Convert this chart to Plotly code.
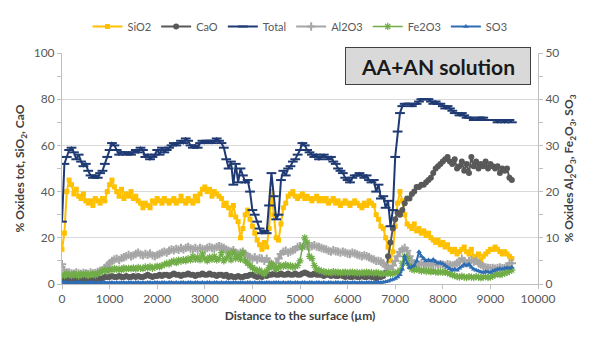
import plotly.graph_objects as go

# Distance to the surface (µm), one point every 50 µm
distance = [50 * i for i in range(190)]

total = [
    27, 52, 55, 58, 59, 57, 54, 56, 53, 51,
    52, 49, 47, 46, 47, 46, 48, 49, 52, 55,
    58, 61, 60, 58, 56, 57, 57, 56, 57, 56,
    57, 58, 57, 59, 58, 55, 56, 54, 55, 56,
    58, 56, 59, 57, 58, 59, 60, 61, 60, 61,
    62, 61, 63, 62, 60, 59, 60, 59, 61, 62,
    61, 62, 62, 61, 62, 63, 62, 61, 59, 54,
    50, 53, 43, 52, 44, 50, 47, 44, 45, 40,
    32, 30, 27, 24, 22, 23, 22, 34, 48, 38,
    28, 30, 45, 49, 47, 50, 51, 53, 54, 56,
    58, 61, 60, 58, 57, 56, 55, 56, 54, 55,
    56, 55, 54, 55, 53, 52, 50, 49, 48, 46,
    45, 44, 46, 47, 47, 48, 47, 46, 47, 45,
    44, 45, 40, 43, 37, 38, 33, 36, 25, 32,
    55, 66, 74, 77, 78, 78, 78, 77, 78, 78,
    79, 80, 80, 80, 80, 79, 78, 79, 78, 78,
    77, 76, 77, 76, 75, 74, 74, 73, 74, 73,
    72, 72, 72, 71, 71, 72, 72, 72, 71, 71,
    71, 71, 71, 70, 71, 71, 70, 71, 71, 70,
]

sio2 = [
    15, 22, 40, 45, 43, 39, 41, 38, 37, 39,
    36, 35, 36, 34, 37, 36, 35, 37, 36, 40,
    43, 45, 42, 40, 38, 41, 37, 39, 38, 40,
    37, 38, 36, 35, 33, 35, 34, 33, 36, 35,
    37, 36, 35, 37, 36, 35, 36, 37, 35, 36,
    38, 36, 35, 37, 36, 35, 38, 36, 39, 41,
    42, 40, 41, 38, 40, 39, 38, 37, 34, 35,
    33, 30, 34, 29, 27, 20, 24, 30, 32, 28,
    25, 22, 19, 17, 15, 18, 16, 24, 40, 30,
    20, 19, 26, 33, 35, 38, 39, 40, 38, 37,
    38, 39, 37, 38, 37, 36, 37, 38, 36, 37,
    36, 37, 35, 36, 37, 35, 36, 34, 35, 36,
    35, 34, 35, 36, 35, 34, 33, 35, 34, 36,
    35, 34, 30, 28, 25, 24, 20, 16, 10, 14,
    25, 35, 40, 36, 30, 26, 25, 24, 26, 23,
    24, 22, 23, 21, 22, 20, 19, 18, 19, 17,
    18, 16, 17, 15, 14, 15, 13, 14, 15, 16,
    14, 13, 15, 12, 11, 13, 10, 12, 13, 14,
    15, 15, 16, 15, 14, 13, 14, 13, 12, 11,
]

cao = [
    2, 1.5, 1.5, 2, 1.5, 2, 1.5, 1.5, 2, 1.5,
    2, 2, 1.5, 2, 2, 2.5, 2, 2.5, 3, 3,
    3, 3.5, 3, 3, 3.5, 3, 3, 3.5, 3, 3,
    3.5, 3, 3.5, 3, 3, 3.5, 4, 3.5, 3, 3.5,
    3.5, 4, 3.5, 4, 4, 3.5, 4, 4.5, 4, 4,
    3.5, 4, 4, 4.5, 4, 4, 3.5, 4, 4, 4.5,
    4, 4, 4.5, 4, 4, 3.5, 4, 4, 3.5, 4,
    3, 3.5, 3, 3, 3.5, 3, 3, 3.5, 3.5, 4,
    4, 3.5, 3, 3.5, 3, 4, 3.5, 4, 4, 4.5,
    4, 4, 4.5, 4, 4, 4.5, 4, 4, 4.5, 4,
    4, 4.5, 5, 4.5, 4, 4, 4.5, 4, 4, 4,
    3.5, 4, 4, 3.5, 4, 3.5, 3.5, 4, 3.5, 3,
    3.5, 3, 3, 3.5, 3, 3, 3.5, 3, 3, 3.5,
    3, 3, 2.5, 3, 3, 3.5, 5, 12, 18, 24,
    28, 31, 30, 32, 35, 37, 37, 39, 40, 42,
    42, 43, 43, 44, 45, 46, 48, 50, 51, 52,
    53, 54, 55, 53, 52, 54, 50, 51, 53, 49,
    52, 48, 55, 51, 53, 50, 52, 51, 53, 50,
    52, 51, 50, 51, 48, 50, 49, 50, 46, 45,
]

al2o3 = [
    4.3, 3, 2.5, 2.5, 2.3, 2.2, 2.5, 2.3, 2.2, 2.4,
    2.3, 2.2, 2.5, 2.3, 2.4, 2.6, 2.8, 3, 3.5, 4,
    4.5, 5, 5.3, 5.5, 5.2, 5.6, 5.8, 6, 6.3, 6,
    6.2, 6.5, 6.8, 6.4, 6.2, 6.5, 6.3, 6.6, 6.2, 6,
    6.3, 6.5, 6.8, 7, 6.8, 7.2, 7.5, 7.3, 7.6, 7.4,
    7.8, 7.5, 7.8, 8, 7.7, 7.5, 7.8, 7.5, 7.8, 7.6,
    7.5, 7.8, 8, 7.8, 7.7, 8, 8.2, 8, 7.8, 7.5,
    7.2, 7, 7.3, 6.8, 6.5, 6.8, 7, 6.5, 6, 5.8,
    5.5, 5.8, 5.3, 5.6, 5.5, 5, 5.5, 4.8, 4, 3.5,
    4.5, 5.5, 6.5, 7, 7.2, 6.8, 7, 7.3, 7.5, 8,
    8.2, 8, 8.3, 8.2, 8, 8.2, 8.4, 8.1, 8, 7.8,
    7.6, 7.5, 7.2, 7, 7.3, 7.1, 7, 6.8, 7, 6.8,
    6.6, 6.5, 6.8, 6.6, 6.4, 6.2, 6, 6.2, 6, 5.8,
    5.5, 5.3, 5, 5, 4.8, 4.5, 3.8, 3.5, 3.2, 4,
    5, 6, 7, 7.5, 7.8, 7.2, 6, 5, 4.5, 4.3,
    4.2, 4.5, 4.3, 4.2, 4, 4.3, 4.2, 4.4, 4.2, 4.3,
    4.2, 4, 4.3, 4.1, 4, 4.2, 4.5, 4.8, 5.5, 5,
    4.5, 5, 5.2, 4.8, 5, 4.5, 4.2, 3.8, 3.6, 3.5,
    3.4, 3.5, 3.3, 3.5, 3.6, 3.4, 3.5, 3.8, 4.5, 4.5,
]

fe2o3 = [
    2, 1.8, 2.2, 2, 1.8, 2.3, 2, 1.7, 2.2, 2,
    2.3, 1.8, 2.1, 2.2, 1.9, 2.3, 2.5, 2.8, 3, 2.7,
    3.2, 3, 3.4, 3.1, 3.3, 3, 3.5, 3.2, 3.4, 3.3,
    3.5, 3.2, 3.6, 3.4, 3.3, 3.7, 3.5, 3.8, 3.4, 3.6,
    3.9, 3.7, 4, 4.2, 4.5, 4.3, 4.8, 5, 4.6, 5.2,
    4.9, 5.3, 5, 5.5, 5.2, 6, 5.3, 5.8, 5.2, 6.5,
    5.5, 5, 5.8, 5.3, 6, 5.2, 5.5, 6.8, 5, 5.6,
    6.5, 5.2, 7, 5.5, 6.2, 5.3, 6.8, 5, 4.5, 4,
    3.5, 3.2, 2.8, 3, 2.5, 2.2, 2.8, 3.5, 4.5, 3.8,
    3.2, 3.6, 4, 3.8, 4.2, 3.8, 4, 3.6, 3.8, 4,
    5, 8, 10, 9, 6, 5.5, 4, 3.2, 3, 2.8,
    2.7, 2.5, 2.6, 2.4, 2.7, 2.5, 2.6, 2.4, 2.5, 2.6,
    2.4, 2.5, 2.6, 2.4, 2.5, 2.3, 2.5, 2.4, 2.6, 2.4,
    2.5, 2.3, 2.5, 2.4, 2.2, 2.3, 2.2, 2.4, 2.2, 2.3,
    2.4, 2.5, 3, 4.5, 6, 5.5, 4, 3.2, 3, 3.2,
    3, 2.8, 3, 2.7, 2.9, 2.6, 2.8, 2.6, 2.5, 2.7,
    2.5, 2.6, 2.4, 2.2, 2, 1.8, 1.6, 1.5, 1.7, 1.5,
    1.4, 1.6, 1.5, 1.4, 1.6, 1.5, 1.3, 1.5, 1.6, 1.4,
    1.5, 1.7, 2, 2.2, 2, 2.2, 2.3, 2.5, 2.8, 3,
]

so3 = [
    0.4, 0.3, 0.3, 0.2, 0.3, 0.3, 0.2, 0.3, 0.3, 0.2,
    0.3, 0.2, 0.3, 0.3, 0.2, 0.3, 0.2, 0.3, 0.3, 0.2,
    0.3, 0.3, 0.2, 0.3, 0.2, 0.3, 0.3, 0.2, 0.3, 0.3,
    0.2, 0.3, 0.3, 0.2, 0.3, 0.2, 0.3, 0.3, 0.2, 0.3,
    0.3, 0.2, 0.3, 0.3, 0.2, 0.3, 0.3, 0.2, 0.3, 0.2,
    0.3, 0.3, 0.2, 0.3, 0.3, 0.2, 0.3, 0.3, 0.2, 0.3,
    0.2, 0.3, 0.3, 0.2, 0.3, 0.3, 0.2, 0.3, 0.2, 0.3,
    0.3, 0.2, 0.3, 0.3, 0.2, 0.3, 0.3, 0.2, 0.3, 0.3,
    0.2, 0.3, 0.2, 0.3, 0.3, 0.2, 0.3, 0.3, 0.2, 0.3,
    0.3, 0.3, 0.2, 0.3, 0.2, 0.3, 0.3, 0.2, 0.3, 0.3,
    0.2, 0.3, 0.3, 0.2, 0.3, 0.3, 0.2, 0.3, 0.3, 0.2,
    0.3, 0.2, 0.3, 0.3, 0.2, 0.3, 0.3, 0.2, 0.3, 0.3,
    0.3, 0.2, 0.3, 0.3, 0.2, 0.3, 0.3, 0.2, 0.3, 0.3,
    0.3, 0.3, 0.3, 0.4, 0.3, 0.4, 0.5, 0.6, 0.8, 1.0,
    1.2, 1.5, 2, 3.2, 6, 4.5, 3.5, 3.8, 4, 5,
    7, 6, 5.5, 5, 5.2, 5, 5.3, 4.8, 4.5, 4.6,
    4.4, 4, 3.6, 3.3, 3, 3.2, 3, 3.4, 3.8, 4.2,
    4, 4.3, 3.6, 3.2, 3, 2.8, 2.6, 2.5, 2.7, 2.6,
    2.5, 2.8, 3, 3.2, 3.3, 3.2, 3.4, 3.5, 3.4, 3.6,
]

for arr in (total, sio2, cao, al2o3, fe2o3, so3):
    assert len(arr) == len(distance), len(arr)

FONT = "Lato, 'Open Sans', sans-serif"
TICK = "#595959"
AXIS = "#BFBFBF"

fig = go.Figure()

fig.add_trace(go.Scatter(
    x=distance, y=sio2, name="SiO2", mode="lines+markers",
    line=dict(color="#FFC000", width=2),
    marker=dict(symbol="square", size=5, color="#FFC000")))
fig.add_trace(go.Scatter(
    x=distance, y=cao, name="CaO", mode="lines+markers",
    line=dict(color="#595959", width=2),
    marker=dict(symbol="circle", size=6, color="#595959")))
fig.add_trace(go.Scatter(
    x=distance, y=total, name="Total", mode="lines+markers",
    line=dict(color="#1F3A73", width=2),
    marker=dict(symbol="line-ew", size=7, line=dict(color="#1F3A73", width=2))))
fig.add_trace(go.Scatter(
    x=distance, y=al2o3, name="Al2O3", mode="lines+markers", yaxis="y2",
    line=dict(color="#A6A6A6", width=2),
    marker=dict(symbol="cross-thin", size=6, line=dict(color="#A6A6A6", width=2))))
fig.add_trace(go.Scatter(
    x=distance, y=fe2o3, name="Fe2O3", mode="lines+markers", yaxis="y2",
    line=dict(color="#70AD47", width=1.5),
    marker=dict(symbol="asterisk", size=6, line=dict(color="#70AD47", width=1.2))))
fig.add_trace(go.Scatter(
    x=distance, y=so3, name="SO3", mode="lines+markers", yaxis="y2",
    line=dict(color="#2E6DB4", width=2),
    marker=dict(symbol="triangle-up", size=5, color="#2E6DB4")))

fig.add_annotation(
    x=0.789, y=0.942, xref="paper", yref="paper",
    xanchor="center", yanchor="middle",
    text="<b>AA+AN solution</b>", showarrow=False,
    font=dict(family=FONT, size=21, color="#1a1a1a"),
    bgcolor="#D9D9D9", bordercolor="#404040", borderwidth=1,
    width=180, height=32, borderpad=2)

fig.update_layout(
    width=590, height=338,
    margin=dict(l=62, r=52, t=42, b=54),
    paper_bgcolor="white", plot_bgcolor="white",
    font=dict(family=FONT, size=12, color=TICK),
    showlegend=True,
    legend=dict(orientation="h", x=0.5, xanchor="center", y=1.115, yanchor="middle",
                font=dict(family=FONT, size=11, color=TICK),
                itemwidth=30, tracegroupgap=0, bgcolor="rgba(0,0,0,0)"),
    xaxis=dict(
        range=[0, 10000], dtick=1000, tick0=0, tickformat="d",
        showline=True, linecolor=AXIS, linewidth=1,
        ticks="outside", ticklen=4, tickcolor=AXIS,
        showgrid=False, zeroline=False,
        tickfont=dict(family=FONT, size=12, color=TICK),
        title=dict(text="<b>Distance to the surface (µm)</b>",
                   font=dict(family=FONT, size=12, color="#404040"), standoff=6)),
    yaxis=dict(
        range=[0, 100], dtick=20, tick0=0,
        showline=True, linecolor=AXIS, linewidth=1,
        ticks="outside", ticklen=4, tickcolor=AXIS,
        minor=dict(dtick=10, ticks="outside", ticklen=4, tickcolor=AXIS, showgrid=False),
        showgrid=True, gridcolor="#D9D9D9", gridwidth=1, zeroline=False,
        tickfont=dict(family=FONT, size=12, color=TICK),
        title=dict(text="<b>% Oxides tot, SiO<sub>2</sub>, CaO</b>",
                   font=dict(family=FONT, size=12, color="#404040"), standoff=6)),
    yaxis2=dict(
        range=[0, 50], dtick=10, tick0=0, overlaying="y", side="right",
        showline=True, linecolor=AXIS, linewidth=1,
        ticks="outside", ticklen=4, tickcolor=AXIS,
        minor=dict(dtick=5, ticks="outside", ticklen=4, tickcolor=AXIS, showgrid=False),
        showgrid=False, zeroline=False,
        tickfont=dict(family=FONT, size=12, color=TICK),
        title=dict(text="<b>% Oxides Al<sub>2</sub>O<sub>3</sub>, Fe<sub>2</sub>O<sub>3</sub>, SO<sub>3</sub></b>",
                   font=dict(family=FONT, size=12, color="#404040"), standoff=6)),
)

fig.write_html("out.html")
